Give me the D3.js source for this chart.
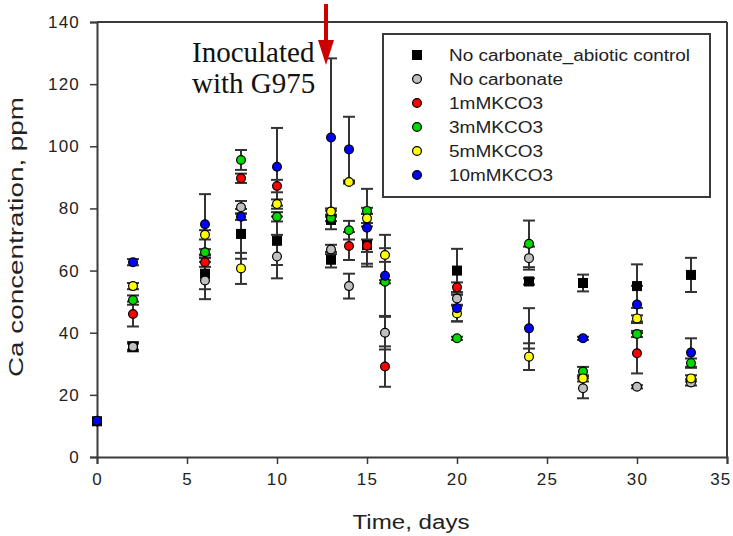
<!DOCTYPE html>
<html>
<head>
<meta charset="utf-8">
<script src="https://cdnjs.cloudflare.com/ajax/libs/d3/7.8.5/d3.min.js"></script>
<style>
  body { margin: 0; background: #fff; }
  svg { display: block; }
</style>
</head>
<body>
<div id="chart"></div>
<script>
// ---- data ----
const days = [0, 2, 6, 8, 10, 13, 14, 15, 16, 20, 24, 27, 30, 33];

const abiotic    = [11.5, 35.5, 59.0, 71.8, 69.6, 63.5, null, 68.2, null, 60.0, 56.5, 56.0, 55.0, 58.6];
const abioticErr = [0, 1.5, 5.0, 8.0, 7.8, 2.5, 0, 6.0, 0, 7.0, 1.0, 2.7, 7.0, 5.5];
// second abiotic reading on day 13
const abioticExtraDays = [13];
const abioticExtra     = [76.3];
const abioticExtraErr  = [3.0];

const noCarb    = [11.5, 35.5, 56.8, 80.4, 64.5, 66.8, 55.0, null, 40.0, 51.0, 64.0, 22.1, 22.6, 24.0];
const noCarbErr = [0, 1.0, 6.0, 2.0, 7.0, 1.5, 4.0, 0, 5.4, 2.0, 3.7, 3.2, 0.5, 1.0];

const mm1    = [11.5, 46.0, 62.7, 89.7, 87.2, null, 67.9, 68.0, 29.1, 54.6, null, null, 33.4, null];
const mm1Err = [0, 4.0, 1.5, 1.5, 2.0, 0, 4.5, 2.0, 6.5, 1.6, 0, 0, 6.5, 0];

const mm3    = [11.5, 50.5, 65.9, 95.6, 77.3, 76.9, 73.0, 79.2, 56.4, 38.2, 68.6, 27.5, 39.6, 30.2];
const mm3Err = [0, 1.5, 1.0, 3.2, 1.5, 1.0, 3.0, 1.0, 0.5, 0.5, 7.5, 1.5, 1.0, 1.5];

const mm5    = [11.5, 55.0, 71.5, 60.7, 81.4, 79.0, 88.5, 76.8, 65.0, 46.2, 32.3, 25.3, 44.6, 25.3];
const mm5Err = [0, 1.0, 1.5, 5.0, 1.5, 1.0, 0.5, 1.5, 2.2, 2.5, 4.3, 1.0, 1.0, 1.0];

const mm10    = [11.7, 62.7, 74.9, 77.3, 93.4, 102.8, 99.0, 73.8, 58.3, 47.9, 41.4, 38.2, 49.1, 33.6];
const mm10Err = [0, 1.0, 9.7, 1.0, 12.5, 25.5, 10.5, 12.5, 13.2, 4.3, 6.5, 0.5, 6.0, 4.6];

const seriesNames  = ["No carbonate_abiotic control", "No carbonate", "1mMKCO3", "3mMKCO3", "5mMKCO3", "10mMKCO3"];
const seriesColors = ["#000000", "#c0c0c0", "#ff0000", "#00d800", "#ffff00", "#0000ff"];

const xTicks = [0, 5, 10, 15, 20, 25, 30, 35];
const yTicks = [0, 20, 40, 60, 80, 100, 120, 140];

// ---- layout ----
const width = 733, height = 536;
const x = d3.scaleLinear().domain([0, 35]).range([97, 727]);
const y = d3.scaleLinear().domain([0, 140]).range([457, 22]);
const axisColor = "#3a3a3a";

const svg = d3.select("#chart").append("svg")
    .attr("width", width)
    .attr("height", height);

// build point lists per series
function pts(vals, errs, xs) {
    return (xs || days).map((d, i) => ({ day: d, v: vals[i], e: errs[i] }))
        .filter(p => p.v != null);
}
const series = [
    pts(abiotic, abioticErr).concat(pts(abioticExtra, abioticExtraErr, abioticExtraDays)),
    pts(noCarb, noCarbErr),
    pts(mm1, mm1Err),
    pts(mm3, mm3Err),
    pts(mm5, mm5Err),
    pts(mm10, mm10Err)
].map((p, i) => ({ name: seriesNames[i], color: seriesColors[i], points: p, square: i === 0 }));

// ---- frame & axes ----
svg.append("line").attr("x1", 97).attr("x2", 727).attr("y1", 22).attr("y2", 22)
    .attr("stroke", axisColor).attr("stroke-width", 2);
svg.append("line").attr("x1", 727).attr("x2", 727).attr("y1", 22).attr("y2", 457)
    .attr("stroke", axisColor).attr("stroke-width", 2);

const xAxis = svg.append("g")
    .attr("transform", "translate(0,457)")
    .call(d3.axisBottom(x).tickValues(xTicks).tickSize(7).tickPadding(9));
const yAxis = svg.append("g")
    .attr("transform", "translate(97,0)")
    .call(d3.axisLeft(y).tickValues(yTicks).tickSize(7).tickPadding(10));

[xAxis, yAxis].forEach(g => {
    g.select(".domain").attr("stroke", axisColor).attr("stroke-width", 2);
    g.selectAll(".tick line").attr("stroke", axisColor).attr("stroke-width", 1.5);
    g.selectAll(".tick text")
        .attr("fill", "#222")
        .style("font-family", "'Liberation Sans', Arial, sans-serif")
        .style("font-size", "17px")
        .style("letter-spacing", "1.2px");
});
// last x label sits against the right edge
xAxis.selectAll(".tick text").filter(d => d === 35)
    .attr("text-anchor", "end").attr("x", 4);

svg.append("text")
    .attr("transform", "translate(23,237) rotate(-90)")
    .attr("text-anchor", "middle")
    .attr("textLength", 280).attr("lengthAdjust", "spacingAndGlyphs")
    .style("font-family", "'Liberation Sans', Arial, sans-serif")
    .style("font-size", "20px").attr("fill", "#222")
    .text("Ca concentration, ppm");

svg.append("text")
    .attr("x", 411).attr("y", 529)
    .attr("text-anchor", "middle")
    .attr("textLength", 117).attr("lengthAdjust", "spacingAndGlyphs")
    .style("font-family", "'Liberation Sans', Arial, sans-serif")
    .style("font-size", "20px").attr("fill", "#222")
    .text("Time, days");

// ---- error bars ----
const capW = 6;
const eb = svg.append("g").attr("stroke", "#333").attr("stroke-width", 2);
series.forEach(s => {
    s.points.filter(p => p.e > 0).forEach(p => {
        const cx = x(p.day);
        eb.append("line").attr("x1", cx).attr("x2", cx)
            .attr("y1", y(p.v + p.e)).attr("y2", y(p.v - p.e));
        [p.v + p.e, p.v - p.e].forEach(val => {
            eb.append("line").attr("x1", cx - capW).attr("x2", cx + capW)
                .attr("y1", y(val)).attr("y2", y(val));
        });
    });
});

// ---- markers ----
function drawMarker(g, s, cx, cy) {
    if (s.square) {
        g.append("rect").attr("x", cx - 4.5).attr("y", cy - 4.5)
            .attr("width", 9).attr("height", 9)
            .attr("fill", s.color).attr("stroke", "#000").attr("stroke-width", 1);
    } else {
        g.append("circle").attr("cx", cx).attr("cy", cy).attr("r", 4.4)
            .attr("fill", s.color).attr("stroke", "#000").attr("stroke-width", 1.2);
    }
}
const mk = svg.append("g");
series.forEach(s => {
    s.points.forEach(p => drawMarker(mk, s, x(p.day), y(p.v)));
});

// ---- legend ----
const legend = svg.append("g");
legend.append("rect").attr("x", 383).attr("y", 34).attr("width", 327).attr("height", 163)
    .attr("fill", "#fff").attr("stroke", axisColor).attr("stroke-width", 2);
const legendLen = [241, 114, 94, 94, 94, 104];
series.forEach((s, i) => {
    const ly = 55 + i * 24;
    drawMarker(legend, s, 417, ly);
    legend.append("text")
        .attr("x", 449).attr("y", ly + 6)
        .attr("textLength", legendLen[i]).attr("lengthAdjust", "spacingAndGlyphs")
        .style("font-family", "'Liberation Sans', Arial, sans-serif")
        .style("font-size", "16px").attr("fill", "#222")
        .text(s.name);
});

// ---- annotation ----
const note = svg.append("g")
    .style("font-family", "'Liberation Serif', 'Times New Roman', serif")
    .style("font-size", "29px").attr("fill", "#111");
note.append("text").attr("x", 192).attr("y", 62).text("Inoculated");
note.append("text").attr("x", 192).attr("y", 93).text("with G975");

const ax = x(13) - 5;
svg.append("line").attr("x1", ax).attr("x2", ax).attr("y1", 4).attr("y2", 44)
    .attr("stroke", "#cc0000").attr("stroke-width", 4);
svg.append("path")
    .attr("d", `M${ax - 8},40 L${ax + 8},40 L${ax},65 Z`)
    .attr("fill", "#cc0000");
</script>
</body>
</html>
